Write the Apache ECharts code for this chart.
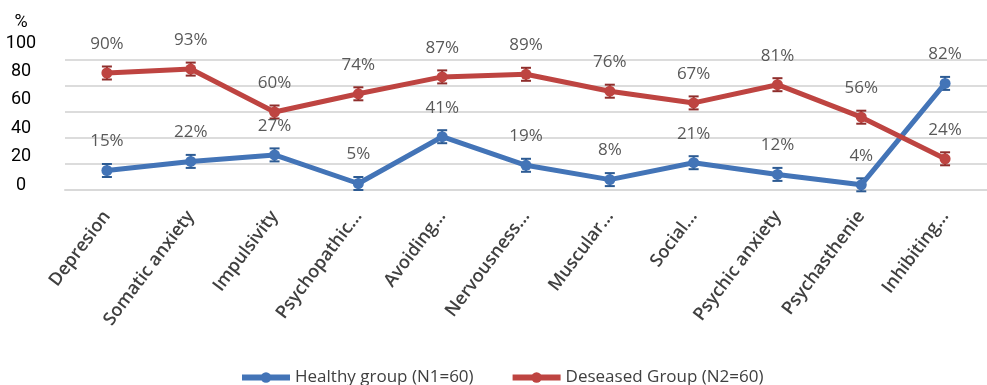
<!DOCTYPE html>
<html>
<head>
<meta charset="utf-8">
<script src="https://cdn.jsdelivr.net/npm/echarts@6/dist/echarts.min.js"></script>
<style>html,body{margin:0;padding:0;background:#fff}#c{width:987px;height:385px}</style>
</head>
<body>
<div id="c"></div>
<script>
const categories = ['Depresion','Somatic anxiety','Impulsivity','Psychopathic...','Avoiding...','Nervousness...','Muscular...','Social...','Psychic anxiety','Psychasthenie','Inhibiting...'];
const healthy = [15,22,27,5,41,19,8,21,12,4,82];
const deseased = [90,93,60,74,87,89,76,67,81,56,24];
const healthyErr = [5,5,5,5,5,5,5,5,5,5,5];
const deseasedErr = [5,5,5,5,5,5,5,5,5,5,5];
const yTicks = [0,20,40,60,80,100];
const seriesNames = ['Healthy group (N1=60)','Deseased Group (N2=60)'];

const BLUE = '#4374b7', RED = '#be4441';
const BLUE_D = '#2d5b93', RED_D = '#8f2e2c';

function errSeries(vals, errs, color) {
  return {
    type: 'custom', xAxisIndex: 0, yAxisIndex: 0, silent: true, z: 1,
    data: vals.map((v, i) => [i, v, errs[i]]),
    renderItem: function (params, api) {
      const i = api.value(0), v = api.value(1), e = api.value(2);
      const hi = api.coord([i, v + e]), lo = api.coord([i, v - e]);
      const w = 5;
      const st = { stroke: color, lineWidth: 2 };
      return { type: 'group', children: [
        { type: 'line', shape: { x1: hi[0], y1: hi[1], x2: lo[0], y2: lo[1] }, style: st },
        { type: 'line', shape: { x1: hi[0]-w, y1: hi[1], x2: hi[0]+w, y2: hi[1] }, style: st },
        { type: 'line', shape: { x1: lo[0]-w, y1: lo[1], x2: lo[0]+w, y2: lo[1] }, style: st }
      ]};
    }
  };
}

const labelStyle = { show: true, position: 'top', distance: 15, formatter: '{c}%', color: '#595959', fontFamily: 'Open Sans', fontSize: 17 };

const chart = echarts.init(document.getElementById('c'), null, { renderer: 'canvas' });
chart.setOption({
  animation: false,
  backgroundColor: '#fff',
  grid: [
    { left: 65, top: 60, width: 927, height: 130 },
    { left: 21, top: 43, width: 1, height: 142 }
  ],
  xAxis: [
    { type: 'category', gridIndex: 0, data: categories, boundaryGap: true,
      axisLine: { show: true, lineStyle: { color: '#d9d9d9', width: 2 } },
      axisTick: { show: false },
      axisLabel: { interval: 0, rotate: 53, margin: 23, color: '#404040', fontFamily: 'Open Sans', fontWeight: 600, fontSize: 18 } },
    { type: 'value', gridIndex: 1, show: false }
  ],
  yAxis: [
    { type: 'value', gridIndex: 0, min: 0, max: 100, interval: 20,
      axisLine: { show: false }, axisTick: { show: false }, axisLabel: { show: false },
      splitLine: { show: true, lineStyle: { color: '#dcdcdc', width: 2 } } },
    { type: 'value', gridIndex: 1, min: yTicks[0], max: yTicks[yTicks.length-1], interval: 20,
      name: '%', nameLocation: 'end', nameGap: 12,
      nameTextStyle: { color: '#000', fontFamily: 'Roboto', fontSize: 18, align: 'center' },
      axisLine: { show: false }, axisTick: { show: false }, splitLine: { show: false },
      axisLabel: { margin: 0, align: 'center', color: '#000', fontFamily: 'Roboto', fontSize: 18 } }
  ],
  legend: {
    left: 234, top: 364, itemWidth: 48, itemHeight: 13, itemGap: 36,
    lineStyle: { width: 6 },
    textStyle: { color: '#404040', fontFamily: 'Open Sans', fontSize: 17 },
    data: seriesNames
  },
  series: [
    errSeries(healthy, healthyErr, BLUE_D),
    { name: seriesNames[0], type: 'line', data: healthy, z: 2,
      symbol: 'circle', symbolSize: 11,
      lineStyle: { color: BLUE, width: 5 }, itemStyle: { color: BLUE },
      label: labelStyle },
    errSeries(deseased, deseasedErr, RED_D),
    { name: seriesNames[1], type: 'line', data: deseased, z: 3,
      symbol: 'circle', symbolSize: 11,
      lineStyle: { color: RED, width: 5 }, itemStyle: { color: RED },
      label: labelStyle }
  ]
});
</script>
</body>
</html>
